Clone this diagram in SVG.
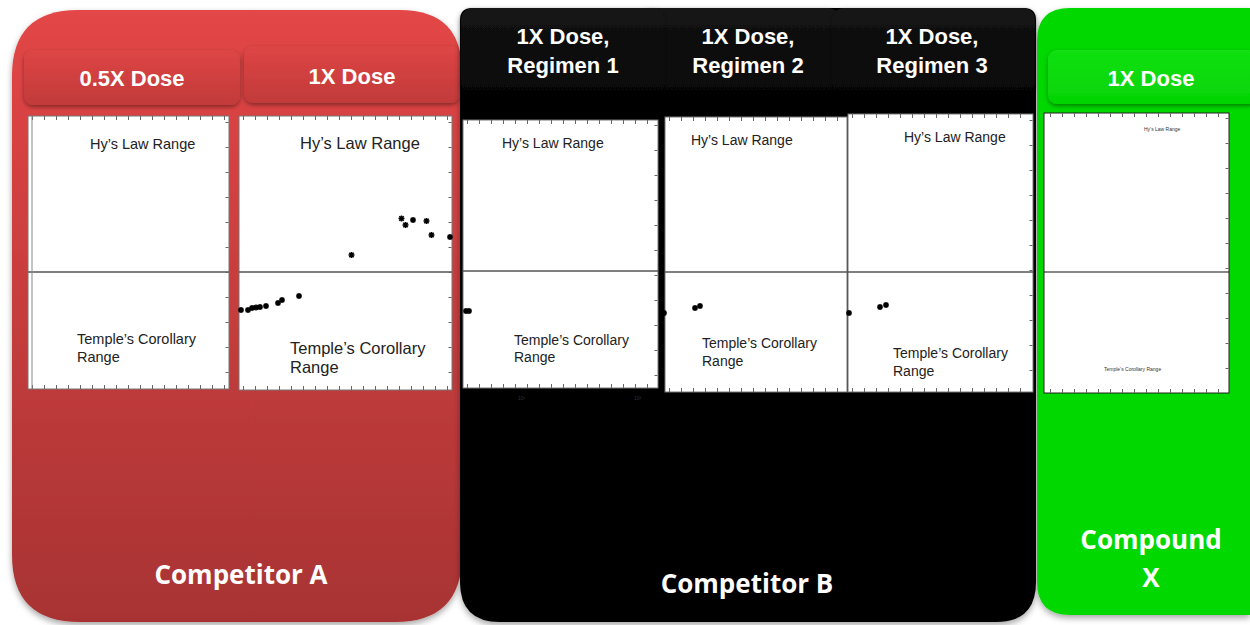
<svg xmlns="http://www.w3.org/2000/svg" width="1250" height="625" viewBox="0 0 1250 625">
<defs>
<linearGradient id="gRed" x1="0" y1="0" x2="0" y2="1"><stop offset="0" stop-color="#e34646"/><stop offset="1" stop-color="#a83333"/></linearGradient>
<linearGradient id="gRedTab" x1="0" y1="0" x2="0" y2="1"><stop offset="0" stop-color="#de4545"/><stop offset="1" stop-color="#c23a3a"/></linearGradient>
<linearGradient id="gBlackTab" x1="0" y1="0" x2="0" y2="1"><stop offset="0" stop-color="#151515"/><stop offset="1" stop-color="#050505"/></linearGradient>
<linearGradient id="gGreenTab" x1="0" y1="0" x2="0" y2="1"><stop offset="0" stop-color="#12e012"/><stop offset="1" stop-color="#04d404"/></linearGradient>
<filter id="sh" x="-10%" y="-10%" width="120%" height="120%"><feDropShadow dx="0" dy="3" stdDeviation="3" flood-color="#000" flood-opacity="0.35"/></filter>
<filter id="tsh" x="-10%" y="-20%" width="120%" height="150%"><feDropShadow dx="0" dy="2" stdDeviation="2" flood-color="#000" flood-opacity="0.4"/></filter>
<g id="star"><path d="M-3,0H3M0,-3V3M-2.2,-2.2L2.2,2.2M-2.2,2.2L2.2,-2.2" stroke="#000" stroke-width="1.6"/></g>
</defs>
<style>
.hdr{font-family:"Liberation Sans",Arial,sans-serif;font-weight:bold;font-size:22px;fill:#fff;text-anchor:middle}
.big{font-family:"Open Sans","DejaVu Sans",sans-serif;font-weight:bold;font-size:26px;fill:#fff;text-anchor:middle}
.plot{fill:#fff;stroke:#777;stroke-width:1}
.mid{stroke:#555;stroke-width:1.3}
.lbl{font-family:"Liberation Sans",Arial,sans-serif;fill:#222}
.tk{stroke:#666;stroke-width:4;stroke-dasharray:1 11;fill:none}
.tkv{stroke:#666;stroke-width:3;stroke-dasharray:1 24;fill:none}
.tiny{font-family:"Liberation Sans",Arial,sans-serif;font-size:5px;fill:#333}
</style>

<g id="panel-a">
<path d="M78,10 H400 Q462,10 462,72 V555 Q462,622 395,622 H80 Q12,622 12,555 V76 Q12,10 78,10 Z" fill="url(#gRed)" filter="url(#sh)"/>
<rect x="24" y="50" width="216" height="55" rx="9" fill="url(#gRedTab)" filter="url(#tsh)"/>
<rect x="244" y="46" width="216" height="57" rx="9" fill="url(#gRedTab)" filter="url(#tsh)"/>
<text class="hdr" x="132" y="86">0.5X Dose</text>
<text class="hdr" x="352" y="84">1X Dose</text>
<text class="big" x="241" y="584">Competitor A</text>
</g>

<g id="panel-b">
<path d="M472,8 H1024 Q1036,8 1036,20 V582 Q1036,622 996,622 H500 Q460,622 460,582 V20 Q460,8 472,8 Z" fill="#050505" filter="url(#sh)"/>
<rect x="640" y="8" width="200" height="88" rx="12" fill="url(#gBlackTab)" filter="url(#tsh)"/>
<rect x="461" y="8" width="204" height="88" rx="12" fill="url(#gBlackTab)" filter="url(#tsh)"/>
<rect x="832" y="8" width="203" height="88" rx="12" fill="url(#gBlackTab)" filter="url(#tsh)"/>
<text class="hdr" x="563" y="44">1X Dose,</text>
<text class="hdr" x="563" y="73">Regimen 1</text>
<text class="hdr" x="748" y="44">1X Dose,</text>
<text class="hdr" x="748" y="73">Regimen 2</text>
<text class="hdr" x="932" y="44">1X Dose,</text>
<text class="hdr" x="932" y="73">Regimen 3</text>
<text class="big" x="747" y="593">Competitor B</text>
</g>

<g id="panel-c">
<path d="M1070,8 H1250 V615 H1070 Q1037,615 1037,582 V41 Q1037,8 1070,8 Z" fill="#04d804" filter="url(#sh)"/>
<rect x="1048" y="50" width="210" height="54" rx="9" fill="url(#gGreenTab)" filter="url(#tsh)"/>
<text class="hdr" x="1151" y="86">1X Dose</text>
<text class="big" x="1151" y="549">Compound</text>
<text class="big" x="1151" y="587">X</text>
</g>

<g id="plot-1">
<rect class="plot" x="28" y="116" width="201" height="273"/>
<line class="mid" x1="28" y1="272" x2="229" y2="272"/>
<line class="tk" x1="32" y1="118" x2="226" y2="118"/>
<line class="tk" x1="32" y1="387" x2="226" y2="387"/>
<line class="tkv" x1="227" y1="122" x2="227" y2="385"/>
<line x1="32" y1="116" x2="32" y2="389" stroke="#888" stroke-width="1"/>
<text class="lbl" x="90" y="149" font-size="14.5">Hy’s Law Range</text>
<text class="lbl" x="77" y="344" font-size="14.5">Temple’s Corollary</text>
<text class="lbl" x="77" y="362" font-size="14.5">Range</text>
</g>

<g id="plot-2">
<rect class="plot" x="239" y="116" width="213" height="274"/>
<line class="mid" x1="239" y1="272" x2="452" y2="272"/>
<line class="tk" x1="243" y1="118" x2="450" y2="118"/>
<line class="tk" x1="243" y1="388" x2="450" y2="388"/>
<line class="tkv" x1="450" y1="122" x2="450" y2="385"/>
<text class="lbl" x="300" y="149" font-size="16.5">Hy’s Law Range</text>
<text class="lbl" x="290" y="354" font-size="16.5">Temple’s Corollary</text>
<text class="lbl" x="290" y="373" font-size="16.5">Range</text>
<use href="#star" x="401.5" y="218.5"/><use href="#star" x="405.5" y="225"/><use href="#star" x="413" y="220"/>
<use href="#star" x="426.5" y="221"/><use href="#star" x="431.5" y="235"/><use href="#star" x="450" y="237"/>
<use href="#star" x="351.5" y="255"/>
<use href="#star" x="241" y="310"/><use href="#star" x="248" y="310"/><use href="#star" x="252" y="308"/>
<use href="#star" x="256" y="307.5"/><use href="#star" x="260" y="307"/><use href="#star" x="266" y="306"/>
<use href="#star" x="278" y="303"/><use href="#star" x="282" y="300"/><use href="#star" x="299" y="296"/>
</g>

<g id="plot-3">
<rect class="plot" x="463" y="120" width="195" height="268"/>
<line class="mid" x1="463" y1="271" x2="658" y2="271"/>
<line class="tk" x1="467" y1="122" x2="655" y2="122"/>
<line class="tk" x1="467" y1="386" x2="655" y2="386"/>
<line class="tkv" x1="656" y1="125" x2="656" y2="384"/>
<text class="lbl" x="502" y="148" font-size="14">Hy’s Law Range</text>
<text class="lbl" x="514" y="345" font-size="14">Temple’s Corollary</text>
<text class="lbl" x="514" y="362" font-size="14">Range</text>
<use href="#star" x="466" y="311"/><use href="#star" x="469" y="311"/>
<text class="tiny" x="518" y="400" fill="#444">10¹</text>
<text class="tiny" x="634" y="400" fill="#444">10²</text>
</g>

<g id="plot-4">
<rect class="plot" x="665" y="117" width="182" height="275" stroke="#333"/>
<line class="mid" x1="665" y1="272" x2="847" y2="272"/>
<line class="tk" x1="669" y1="119" x2="845" y2="119"/>
<line class="tk" x1="669" y1="390" x2="845" y2="390"/>
<text class="lbl" x="691" y="145" font-size="14">Hy’s Law Range</text>
<text class="lbl" x="702" y="348" font-size="14">Temple’s Corollary</text>
<text class="lbl" x="702" y="366" font-size="14">Range</text>
<use href="#star" x="664" y="313"/><use href="#star" x="695" y="308"/><use href="#star" x="700" y="306"/>
</g>

<g id="plot-5">
<rect class="plot" x="848" y="114" width="185" height="278" stroke="#333"/>
<line class="mid" x1="848" y1="272" x2="1033" y2="272" stroke="#222"/>
<line class="tk" x1="852" y1="116" x2="1031" y2="116"/>
<line class="tk" x1="852" y1="390" x2="1031" y2="390"/>
<line class="tkv" x1="1031" y1="120" x2="1031" y2="386"/>
<text class="lbl" x="904" y="142" font-size="14">Hy’s Law Range</text>
<text class="lbl" x="893" y="358" font-size="14">Temple’s Corollary</text>
<text class="lbl" x="893" y="376" font-size="14">Range</text>
<use href="#star" x="849" y="313"/><use href="#star" x="880" y="307"/><use href="#star" x="886" y="305"/>
</g>

<g id="plot-6">
<rect x="1044" y="113" width="185" height="280" fill="#fff" stroke="#222" stroke-width="1"/>
<line x1="1044" y1="272" x2="1229" y2="272" stroke="#111" stroke-width="1.2"/>
<line class="tk" x1="1050" y1="115" x2="1226" y2="115" stroke-width="3"/>
<line class="tk" x1="1050" y1="391" x2="1226" y2="391" stroke-width="3"/>
<line class="tkv" x1="1227" y1="118" x2="1227" y2="390"/>
<text class="tiny" x="1144" y="131">Hy’s Law Range</text>
<text class="tiny" x="1104" y="371">Temple’s Corollary Range</text>
</g>
</svg>
